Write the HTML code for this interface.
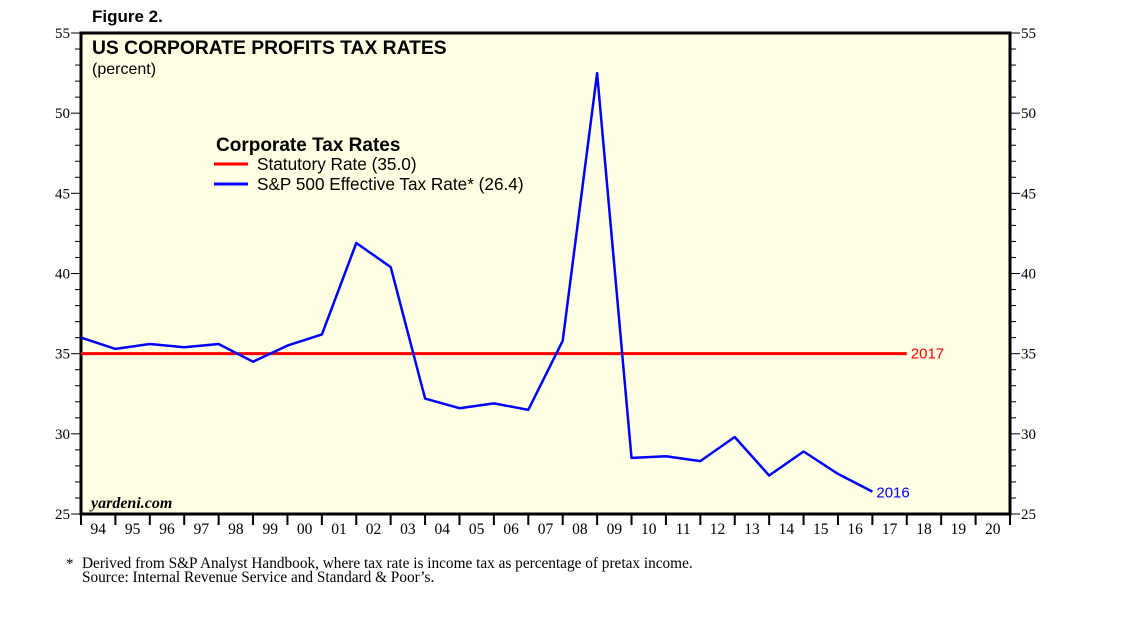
<!DOCTYPE html>
<html><head><meta charset="utf-8"><style>
body{margin:0;background:#fff;width:1138px;height:621px;overflow:hidden}
svg{display:block}
text{font-family:"Liberation Sans",sans-serif}
.serif{font-family:"Liberation Serif",serif}
</style></head><body>
<svg id="chart" width="1138" height="621" viewBox="0 0 1138 621">
<text x="92" y="22" font-size="17" font-weight="bold">Figure 2.</text>
<rect x="81" y="33" width="929" height="481" fill="#ffffe4" stroke="#000" stroke-width="3"/>
<text x="92" y="54" font-size="19.3" font-weight="bold">US CORPORATE PROFITS TAX RATES</text>
<text x="92" y="74" font-size="16">(percent)</text>
<text x="216" y="151" font-size="19" font-weight="bold">Corporate Tax Rates</text>
<line x1="214" y1="164" x2="248" y2="164" stroke="#f00" stroke-width="3"/>
<text x="257" y="170" font-size="17.2">Statutory Rate (35.0)</text>
<line x1="214" y1="184" x2="248" y2="184" stroke="#00f" stroke-width="3"/>
<text x="257" y="190" font-size="17.2">S&amp;P 500 Effective Tax Rate* (26.4)</text>
<text class="serif" x="91" y="508" font-size="16" font-style="italic" font-weight="bold">yardeni.com</text>
<g id="axes"></g>
<g id="series"></g>
<text class="serif" x="66" y="568" font-size="15">*</text>
<text class="serif" x="82" y="568" font-size="15.3">Derived from S&amp;P Analyst Handbook, where tax rate is income tax as percentage of pretax income.</text>
<text class="serif" x="82" y="582" font-size="15.3">Source: Internal Revenue Service and Standard &amp; Poor’s.</text>
</svg>
<script>
const yearLabels=["94","95","96","97","98","99","00","01","02","03","04","05","06","07","08","09","10","11","12","13","14","15","16","17","18","19","20"];
const yTicks=[25,30,35,40,45,50,55];
const effYears=[1993,1994,1995,1996,1997,1998,1999,2000,2001,2002,2003,2004,2005,2006,2007,2008,2009,2010,2011,2012,2013,2014,2015,2016];
const effValues=[36.0,35.3,35.6,35.4,35.6,34.5,35.5,36.2,41.9,40.4,32.2,31.6,31.9,31.5,35.8,52.5,28.5,28.6,28.3,29.8,27.4,28.9,27.5,26.4];
const statValue=35.0, statStart=1993, statEnd=2017;
const NS="http://www.w3.org/2000/svg";
const X0=81,X1=1010,Y0=514,Y1=33,N=yearLabels.length;
const yw=(X1-X0)/N;
const xs=yr=>X0+(yr-1993)*yw;
const ys=v=>Y0-(v-25)/30*(Y0-Y1);
function mk(tag,attrs,parent){const e=document.createElementNS(NS,tag);for(const k in attrs)e.setAttribute(k,attrs[k]);parent.appendChild(e);return e;}
const ax=document.getElementById('axes');
for(let v=25;v<=55;v++){
  const y=ys(v),len=v%5===0?10:6;
  const t1=mk('line',{x1:X0-len,x2:X0,y1:y,y2:y,stroke:'#000','stroke-width':1},ax);
  
  
  const t2=mk('line',{x1:X1,x2:X1+len,y1:y,y2:y,stroke:'#000','stroke-width':1},ax);
  
  
}
yTicks.forEach(v=>{
  const a=mk('text',{x:X0-11,y:ys(v)+5,'font-size':15,'text-anchor':'end',class:'serif'},ax);a.textContent=v;
  
  
  const b=mk('text',{x:X1+11,y:ys(v)+5,'font-size':15,class:'serif'},ax);b.textContent=v;
  
  
});
yearLabels.forEach((l,i)=>{
  const x=X0+i*yw;
  const t=mk('line',{x1:x,x2:x,y1:Y0,y2:Y0+11,stroke:'#000','stroke-width':2},ax);
  
  
  const lb=mk('text',{x:x+yw/2,y:Y0+20,'font-size':15.5,'text-anchor':'middle',class:'serif'},ax);lb.textContent=l;
  
  
});
const lt=mk('line',{x1:X1,x2:X1,y1:Y0,y2:Y0+11,stroke:'#000','stroke-width':2},ax);


const sg=document.getElementById('series');
const sl=mk('line',{x1:xs(statStart),x2:xs(statEnd),y1:ys(statValue),y2:ys(statValue),stroke:'#f00','stroke-width':3},sg);


const st=mk('text',{x:xs(statEnd)+4,y:ys(statValue)+5,'font-size':15,fill:'#f00'},sg);st.textContent=String(statEnd);


const pts=effYears.map((yr,i)=>xs(yr).toFixed(1)+','+ys(effValues[i]).toFixed(1)).join(' ');
const pl=mk('polyline',{points:pts,fill:'none',stroke:'#00f','stroke-width':2.5,'stroke-linejoin':'round'},sg);


const lastY=effYears[effYears.length-1];
const et=mk('text',{x:xs(lastY)+4,y:ys(effValues[effValues.length-1])+6,'font-size':15,fill:'#00f'},sg);et.textContent=String(lastY);


</script>
</body></html>
